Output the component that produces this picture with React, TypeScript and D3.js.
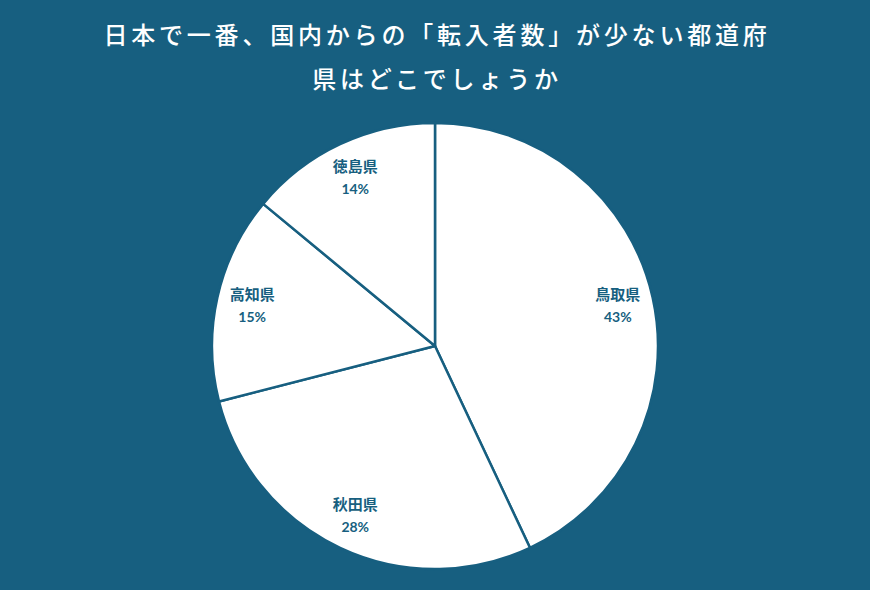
import React, { useEffect } from "react";
import * as d3 from "d3";

const categories = ["鳥取県", "秋田県", "高知県", "徳島県"];
const values = [43, 28, 15, 14];
const titleLines = ["日本で一番、国内からの「転入者数」が少ない都道府", "県はどこでしょうか"];

const W = 870;
const H = 590;
const BG = "#175f80";

export default function App() {
  useEffect(() => {
    document.body.style.margin = "0";
  }, []);
  const cx = 435;
  const cy = 346;
  const R = 223;
  const pie = d3.pie<number>().sort(null).value((d) => d);
  const arcs = pie(values);
  const arc = d3.arc<d3.PieArcDatum<number>>().innerRadius(0).outerRadius(R);
  const labelArc = d3.arc<d3.PieArcDatum<number>>().innerRadius(R * 0.84).outerRadius(R * 0.84);
  return (
    <svg width={W} height={H} style={{ display: "block" }}>
      <rect width={W} height={H} fill={BG} />
      {titleLines.map((t, i) => (
        <text
          key={i}
          x={W / 2 + 2}
          y={44 + i * 44}
          textAnchor="middle"
          fill="#ffffff"
          fontFamily="'Noto Sans CJK JP', sans-serif"
          fontWeight={500}
          fontSize={24}
          letterSpacing={3.8}
        >
          {t}
        </text>
      ))}
      <g transform={`translate(${cx},${cy})`}>
        {arcs.map((a, i) => (
          <path key={i} d={arc(a) || ""} fill="#ffffff" stroke={BG} strokeWidth={2.5} strokeLinejoin="round" />
        ))}
        {arcs.map((a, i) => {
          const [x, y] = labelArc.centroid(a);
          return (
            <g key={"l" + i} transform={`translate(${x},${y})`} fill={BG} textAnchor="middle">
              <text y={-5} fontFamily="'Noto Sans CJK JP', sans-serif" fontWeight={700} fontSize={15}>
                {categories[i]}
              </text>
              <text y={17} fontFamily="Lato, sans-serif" fontWeight={700} fontSize={14}>
                {values[i]}%
              </text>
            </g>
          );
        })}
      </g>
    </svg>
  );
}
